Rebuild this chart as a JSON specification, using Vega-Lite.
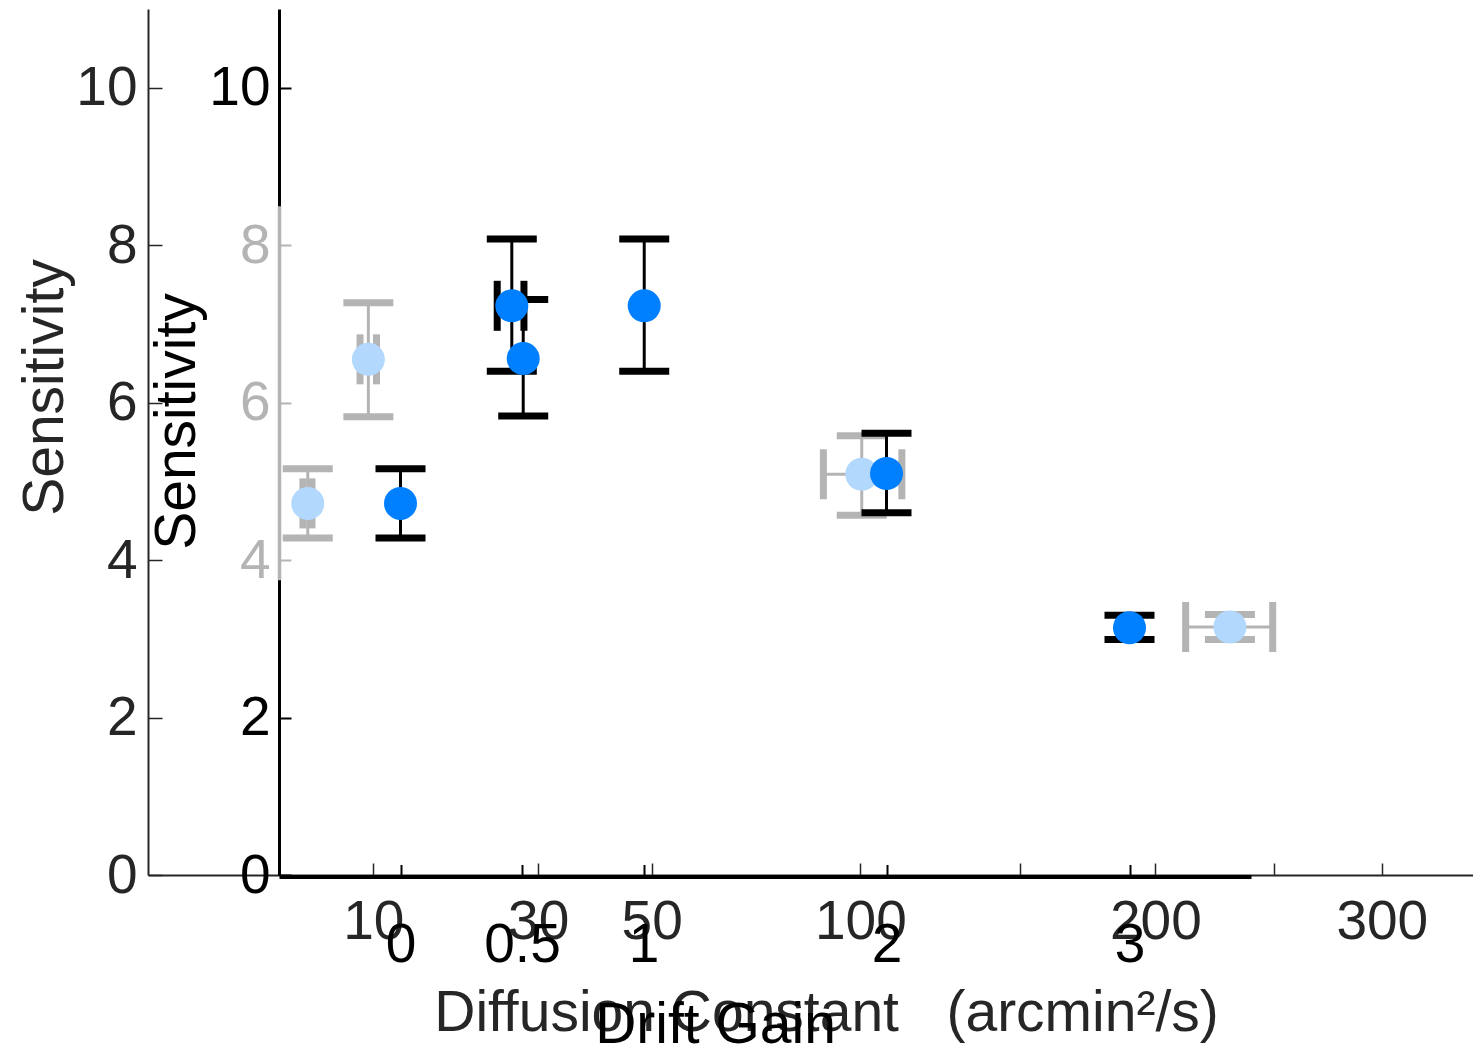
{
  "$schema": "https://vega.github.io/schema/vega-lite/v6.json",
  "width": 1325,
  "height": 866,
  "autosize": {"type": "none"},
  "padding": {"left": 148, "top": 9, "right": 0, "bottom": 170},
  "background": "white",
  "config": {
    "view": {"stroke": null},
    "font": "Liberation Sans",
    "tick": {"opacity": 1},
    "axis": {"grid": false, "labelFont": "Liberation Sans", "titleFont": "Liberation Sans", "titleFontWeight": "normal", "labelFontSize": 55, "titleFontSize": 57, "labelOverlap": false, "labelFlush": false}
  },
  "datasets": {
    "diffusion": [
      {"dc": 5.03, "s": 4.72, "lo": 4.28, "hi": 5.16, "dlo": 4.73, "dhi": 5.30},
      {"dc": 9.57, "s": 6.55, "lo": 5.82, "hi": 7.27, "dlo": 8.86, "dhi": 10.29},
      {"dc": 100.4, "s": 5.09, "lo": 4.57, "hi": 5.58, "dlo": 89.9, "dhi": 112.0},
      {"dc": 230.7, "s": 3.15, "lo": 2.99, "hi": 3.31, "dlo": 212.2, "dhi": 249.3}
    ],
    "gain": [
      {"g": 0.0, "s": 4.72, "lo": 4.28, "hi": 5.16},
      {"g": 0.458, "s": 7.23, "lo": 6.40, "hi": 8.08, "xlo": 0.398, "xhi": 0.508},
      {"g": 0.505, "s": 6.56, "lo": 5.83, "hi": 7.31},
      {"g": 1.003, "s": 7.23, "lo": 6.40, "hi": 8.08},
      {"g": 2.0, "s": 5.10, "lo": 4.60, "hi": 5.61},
      {"g": 3.0, "s": 3.14, "lo": 2.99, "hi": 3.30}
    ]
  },
  "layer": [
    {
      "data": {"name": "diffusion"},
      "layer": [
        {
          "mark": {"type": "rule", "color": "#b4b4b4", "strokeWidth": 3},
          "encoding": {
            "x": {"field": "dc", "type": "quantitative", "title": "Diffusion Constant\u00a0\u00a0\u00a0(arcmin²/s)",
              "scale": {"type": "sqrt", "domain": [0, 346], "nice": false, "zero": false},
              "axis": {"orient": "bottom", "values": [10, 30, 50, 100, 150, 200, 250, 300],
                "labelExpr": "datum.value == 150 || datum.value == 250 ? '' : '' + datum.value",
                "tickSize": -12, "tickWidth": 1.5, "tickColor": "#262626", "domainColor": "#262626", "domainWidth": 2,
                "labelColor": "#262626", "labelBaseline": "alphabetic", "labelPadding": 75, "labelDx": 9,
                "titleColor": "#262626", "titleX": 678, "titleY": 155, "titleBaseline": "alphabetic", "titleAlign": "center", "titleAnchor": null}},
            "y": {"field": "lo", "type": "quantitative", "title": "Sensitivity",
              "scale": {"domain": [0, 11], "nice": false, "zero": false},
              "axis": {"orient": "left", "values": [0, 2, 4, 6, 8, 10], "labelExpr": "'' + datum.value",
                "tickSize": -14, "tickWidth": 1.5, "tickColor": "#262626", "domainColor": "#262626", "domainWidth": 2,
                "labelColor": "#262626", "labelPadding": 25, "labelBaseline": "middle",
                "titleColor": "#262626", "titleX": -86, "titleY": 378, "titleAngle": 270, "titleBaseline": "alphabetic", "titleAlign": "center", "titleAnchor": null}},
            "y2": {"field": "hi"}
          }
        },
        {
          "mark": {"type": "tick", "orient": "horizontal", "color": "#b4b4b4", "opacity": 1, "thickness": 7, "size": 50},
          "encoding": {
            "x": {"field": "dc", "type": "quantitative", "title": "Diffusion Constant\u00a0\u00a0\u00a0(arcmin²/s)"},
            "y": {"field": "lo", "type": "quantitative", "title": "Sensitivity"}
          }
        },
        {
          "mark": {"type": "tick", "orient": "horizontal", "color": "#b4b4b4", "opacity": 1, "thickness": 7, "size": 50},
          "encoding": {
            "x": {"field": "dc", "type": "quantitative", "title": "Diffusion Constant\u00a0\u00a0\u00a0(arcmin²/s)"},
            "y": {"field": "hi", "type": "quantitative", "title": "Sensitivity"}
          }
        },
        {
          "mark": {"type": "rule", "color": "#b4b4b4", "strokeWidth": 3},
          "encoding": {
            "x": {"field": "dlo", "type": "quantitative", "title": "Diffusion Constant\u00a0\u00a0\u00a0(arcmin²/s)"},
            "x2": {"field": "dhi"},
            "y": {"field": "s", "type": "quantitative", "title": "Sensitivity"}
          }
        },
        {
          "mark": {"type": "tick", "orient": "vertical", "color": "#b4b4b4", "opacity": 1, "thickness": 7, "size": 50},
          "encoding": {
            "x": {"field": "dlo", "type": "quantitative", "title": "Diffusion Constant\u00a0\u00a0\u00a0(arcmin²/s)"},
            "y": {"field": "s", "type": "quantitative", "title": "Sensitivity"}
          }
        },
        {
          "mark": {"type": "tick", "orient": "vertical", "color": "#b4b4b4", "opacity": 1, "thickness": 7, "size": 50},
          "encoding": {
            "x": {"field": "dhi", "type": "quantitative", "title": "Diffusion Constant\u00a0\u00a0\u00a0(arcmin²/s)"},
            "y": {"field": "s", "type": "quantitative", "title": "Sensitivity"}
          }
        }
      ]
    },
    {
      "data": {"name": "diffusion"},
      "mark": {"type": "point", "filled": true, "shape": "circle", "size": 1090, "color": "#b3d8fd", "opacity": 1},
      "encoding": {
        "x": {"field": "dc", "type": "quantitative", "scale": {"type": "sqrt", "domain": [0, 346], "nice": false, "zero": false}, "axis": null},
        "y": {"field": "s", "type": "quantitative", "title": null,
          "scale": {"domain": [3.75, 8.5], "range": [570.8, 196.8], "nice": false, "zero": false},
          "axis": {"orient": "left", "offset": -131, "values": [4, 6, 8], "zindex": 1, "labelExpr": "'' + datum.value",
            "tickSize": -12, "tickWidth": 2, "tickColor": "#b4b4b4", "domainColor": "#b4b4b4", "domainWidth": 3.5,
            "labelColor": "#b4b4b4", "labelPadding": 21, "labelBaseline": "middle"}}
      }
    },
    {
      "data": {"name": "gain"},
      "layer": [
        {
          "mark": {"type": "rule", "color": "#000000", "strokeWidth": 3},
          "encoding": {
            "x": {"field": "g", "type": "quantitative", "title": "Drift Gain",
              "scale": {"domain": [-0.5, 3.5], "range": [131, 1103], "nice": false, "zero": false},
              "axis": {"orient": "bottom", "offset": 1.5, "values": [0, 0.5, 1, 2, 3],
                "labelExpr": "'' + datum.value",
                "tickSize": -12, "tickWidth": 2, "tickColor": "#000000", "domainColor": "#000000", "domainWidth": 4,
                "labelColor": "#000000", "labelBaseline": "alphabetic", "labelPadding": 96.5, "labelDx": 3,
                "titleColor": "#000000", "titleX": 567, "titleY": 165.5, "titleBaseline": "alphabetic", "titleAlign": "center", "titleAnchor": null}},
            "y": {"field": "lo", "type": "quantitative", "title": "Sensitivity",
              "scale": {"domain": [0, 11], "nice": false, "zero": false},
              "axis": {"orient": "left", "offset": -131, "values": [0, 2, 10], "labelExpr": "'' + datum.value",
                "tickSize": -12, "tickWidth": 2, "tickColor": "#000000", "domainColor": "#000000", "domainWidth": 3,
                "labelColor": "#000000", "labelPadding": 21, "labelBaseline": "middle",
                "titleColor": "#000000", "titleX": -85, "titleY": 412, "titleAngle": 270, "titleBaseline": "alphabetic", "titleAlign": "center", "titleAnchor": null}},
            "y2": {"field": "hi"}
          }
        },
        {
          "mark": {"type": "tick", "orient": "horizontal", "color": "#000000", "opacity": 1, "thickness": 7, "size": 50},
          "encoding": {
            "x": {"field": "g", "type": "quantitative", "title": "Drift Gain"},
            "y": {"field": "lo", "type": "quantitative", "title": "Sensitivity"}
          }
        },
        {
          "mark": {"type": "tick", "orient": "horizontal", "color": "#000000", "opacity": 1, "thickness": 7, "size": 50},
          "encoding": {
            "x": {"field": "g", "type": "quantitative", "title": "Drift Gain"},
            "y": {"field": "hi", "type": "quantitative", "title": "Sensitivity"}
          }
        },
        {
          "transform": [{"filter": "isValid(datum.xlo)"}],
          "mark": {"type": "rule", "color": "#000000", "strokeWidth": 3},
          "encoding": {
            "x": {"field": "xlo", "type": "quantitative", "title": "Drift Gain"},
            "x2": {"field": "xhi"},
            "y": {"field": "s", "type": "quantitative", "title": "Sensitivity"}
          }
        },
        {
          "transform": [{"filter": "isValid(datum.xlo)"}],
          "mark": {"type": "tick", "orient": "vertical", "color": "#000000", "opacity": 1, "thickness": 7, "size": 50},
          "encoding": {
            "x": {"field": "xlo", "type": "quantitative", "title": "Drift Gain"},
            "y": {"field": "s", "type": "quantitative", "title": "Sensitivity"}
          }
        },
        {
          "transform": [{"filter": "isValid(datum.xlo)"}],
          "mark": {"type": "tick", "orient": "vertical", "color": "#000000", "opacity": 1, "thickness": 7, "size": 50},
          "encoding": {
            "x": {"field": "xhi", "type": "quantitative", "title": "Drift Gain"},
            "y": {"field": "s", "type": "quantitative", "title": "Sensitivity"}
          }
        },
        {
          "mark": {"type": "point", "filled": true, "shape": "circle", "size": 1090, "color": "#0080ff", "opacity": 1},
          "encoding": {
            "x": {"field": "g", "type": "quantitative", "title": "Drift Gain"},
            "y": {"field": "s", "type": "quantitative", "title": "Sensitivity"}
          }
        }
      ]
    }
  ],
  "resolve": {"scale": {"x": "independent", "y": "independent"}, "axis": {"x": "independent", "y": "independent"}}
}
